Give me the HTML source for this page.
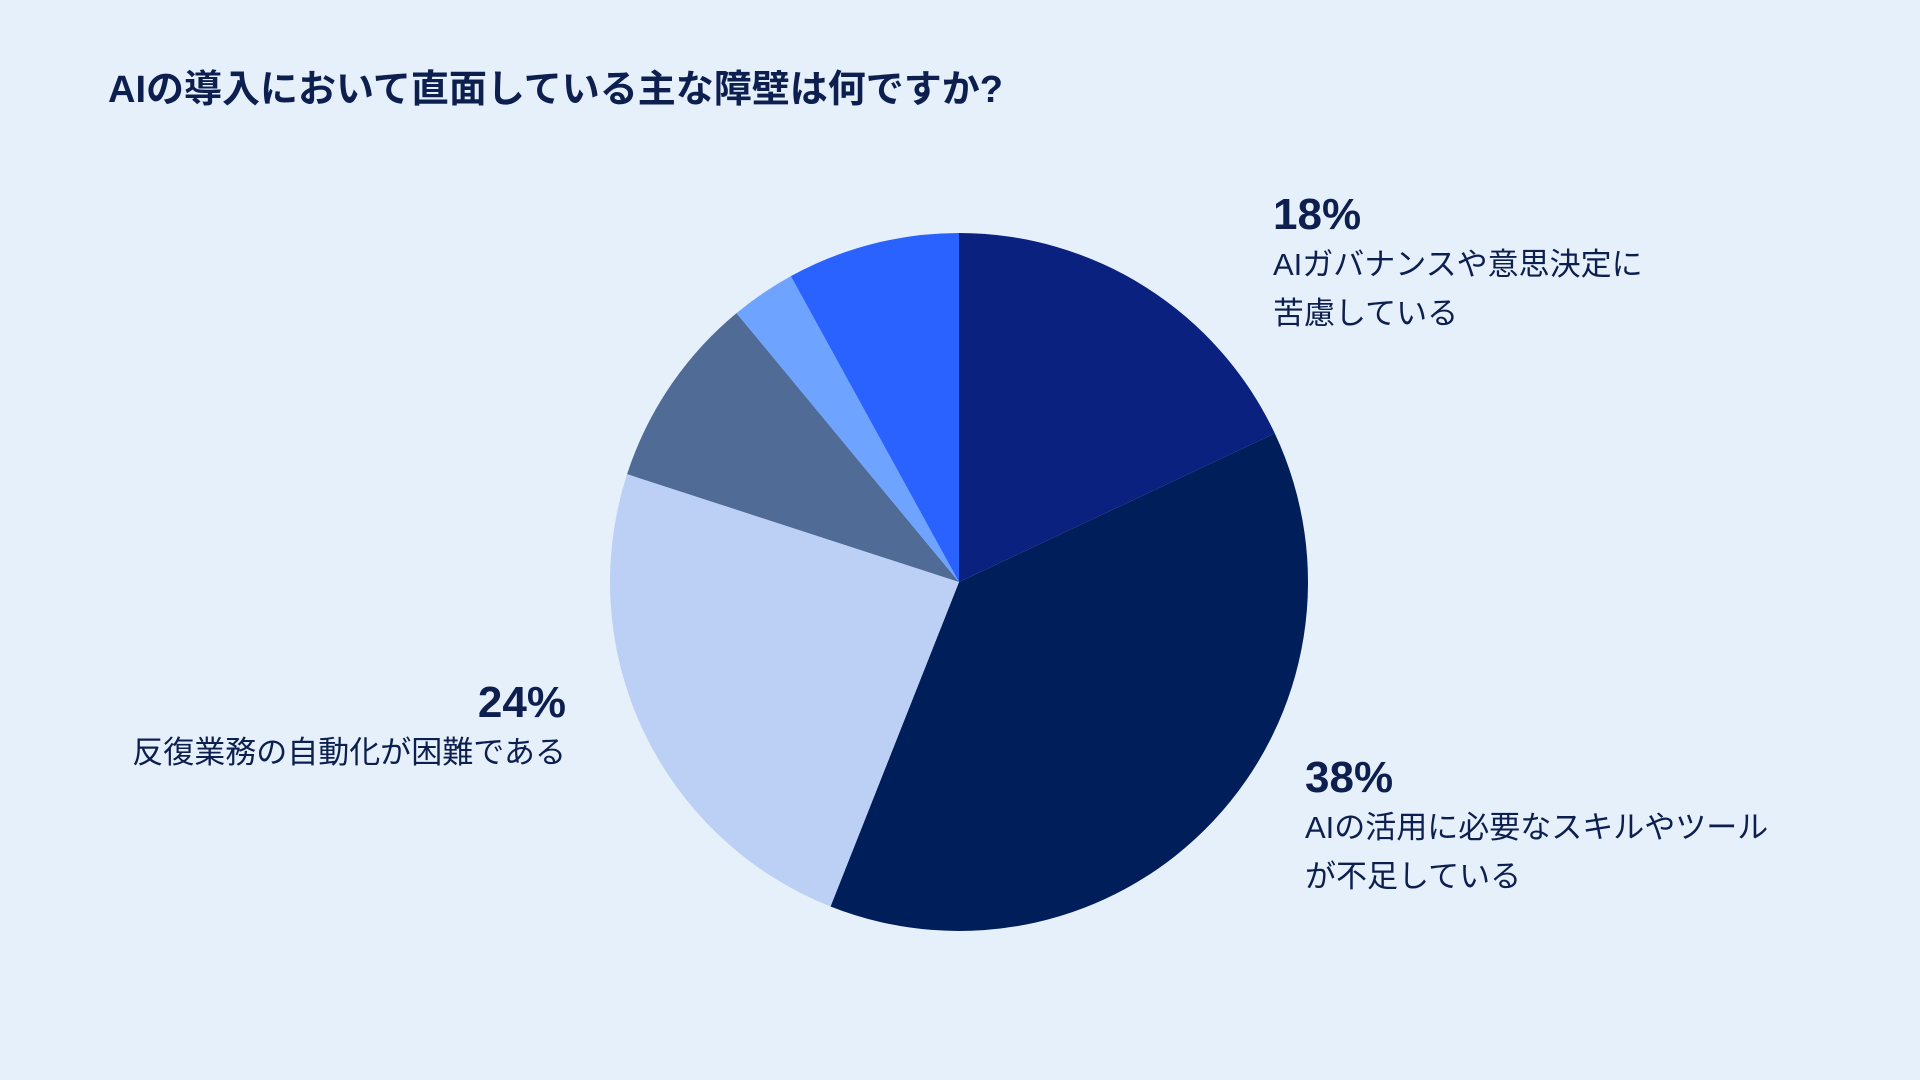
<!DOCTYPE html>
<html><head><meta charset="utf-8">
<style>
html,body{margin:0;padding:0;}
body{width:1920px;height:1080px;background:#e6f0fb;position:relative;overflow:hidden;font-family:"Liberation Sans","Noto Sans CJK JP",sans-serif;color:#0d1f4f;}
.t{position:absolute;white-space:nowrap;}
.title{left:108px;top:58px;font-size:38px;font-weight:bold;}
.pct{font-size:44px;font-weight:bold;line-height:50px;}
.lbl{font-size:31px;line-height:49px;}
</style></head>
<body>
<div class="t title">AIの導入において直面している主な障壁は何ですか?</div>
<svg id="pie" width="1920" height="1080" style="position:absolute;left:0;top:0"></svg>
<div class="t" style="left:1273px;top:190px">
 <div class="pct">18%</div>
 <div class="lbl">AIガバナンスや意思決定に<br>苦慮している</div>
</div>
<div class="t" style="left:1305px;top:753px">
 <div class="pct">38%</div>
 <div class="lbl">AIの活用に必要なスキルやツール<br>が不足している</div>
</div>
<div class="t" style="right:1354px;top:678px;text-align:right">
 <div class="pct">24%</div>
 <div class="lbl">反復業務の自動化が困難である</div>
</div>
<script>
const categories=["AIガバナンスや意思決定に苦慮している","AIの活用に必要なスキルやツールが不足している","反復業務の自動化が困難である","その他A","その他B","その他C"];
const values=[18,38,24,9,3,8];
const colors=["#0a2180","#001e5a","#bcd0f5","#4f6b96","#6ea3ff","#2962ff"];
const cx=959,cy=582,r=349;
const svg=document.getElementById('pie');
const total=values.reduce((a,b)=>a+b,0);
function pt(frac){const a=frac*2*Math.PI;return [cx+r*Math.sin(a),cy-r*Math.cos(a)];}
let acc=0;
values.forEach((v,i)=>{
 const s=acc/total,e=(acc+v)/total;acc+=v;
 const [x1,y1]=pt(s),[x2,y2]=pt(e);
 const large=(e-s)>0.5?1:0;
 const p=document.createElementNS('http://www.w3.org/2000/svg','path');
 p.setAttribute('d',`M${cx},${cy} L${x1},${y1} A${r},${r} 0 ${large} 1 ${x2},${y2} Z`);
 p.setAttribute('fill',colors[i]);
 
 
 svg.appendChild(p);
});
</script>
</body></html>
